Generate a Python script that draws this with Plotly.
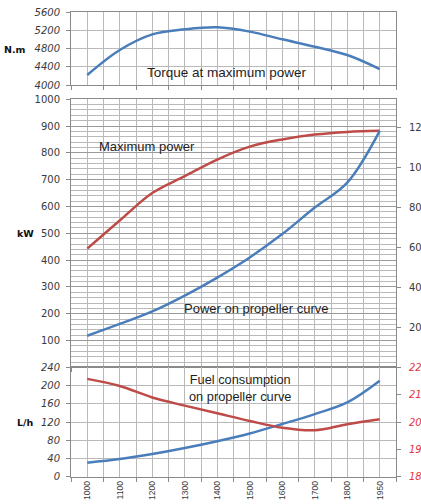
import plotly.graph_objects as go

# Engine speed categories (rpm)
rpm = ["1000", "1100", "1200", "1300", "1400", "1500", "1600", "1700", "1800", "1950"]

# Torque at maximum power (N.m)
torque_nm = [4220, 4770, 5115, 5225, 5270, 5175, 5005, 4843, 4660, 4352]

# Maximum power and power on propeller curve (kW)
max_power_kw = [443, 548, 650, 713, 775, 823, 850, 868, 878, 882]
prop_power_kw = [118, 162, 209, 268, 335, 410, 497, 596, 689, 882]

# Fuel consumption on propeller curve (L/h) and specific consumption (g/kWh)
fuel_lh = [30.7, 38.8, 49.8, 63, 78, 95, 115.6, 137.5, 163, 210.6]
sfc_gkwh = [215.8, 213.2, 209.0, 206.0, 203.2, 200.4, 197.9, 197.0, 199.2, 201.0]

# Axis tick values
torque_ticks = [4000, 4400, 4800, 5200, 5600]
kw_ticks = [100, 200, 300, 400, 500, 600, 700, 800, 900, 1000]
hp_ticks = [200, 400, 600, 800, 1000, 1200]
lh_ticks = [0, 40, 80, 120, 160, 200, 240]
sfc_ticks = [180, 190, 200, 210, 220]

KW_TO_HP = 1.341

BLUE = "#4a7ebb"
RED = "#be4b48"
GRID = "#b9b9b9"
GRID_MAJOR = "#9a9a9a"
AXIS = "#8a8a8a"
TXT = "#3a3a3a"
FONT = "DejaVu Sans"

xi = list(range(len(rpm)))

fig = go.Figure()
fig.add_trace(go.Scatter(x=xi, y=torque_nm, xaxis="x", yaxis="y",
                         mode="lines", line=dict(color=BLUE, width=2.5, shape="spline")))
fig.add_trace(go.Scatter(x=xi, y=max_power_kw, xaxis="x2", yaxis="y2",
                         mode="lines", line=dict(color=RED, width=2.5, shape="spline")))
fig.add_trace(go.Scatter(x=xi, y=prop_power_kw, xaxis="x2", yaxis="y2",
                         mode="lines", line=dict(color=BLUE, width=2.5, shape="spline")))
fig.add_trace(go.Scatter(x=xi, y=sfc_gkwh, xaxis="x3", yaxis="y5",
                         mode="lines", line=dict(color=RED, width=2.5, shape="spline")))
fig.add_trace(go.Scatter(x=xi, y=fuel_lh, xaxis="x3", yaxis="y4",
                         mode="lines", line=dict(color=BLUE, width=2.5, shape="spline")))

# Plot area: x 71..396 px, y 12..477 px
L, R, T, B = 71, 25, 12, 27
W, H = 421, 504
ph = H - T - B
pw = W - L - R


def ydom(top_px, bottom_px):
    return [(H - B - bottom_px) / ph, (H - B - top_px) / ph]


def xaxis_common(anchor, show_labels):
    return dict(
        anchor=anchor, domain=[0, 1], range=[-0.5, len(rpm) - 0.5],
        tickvals=xi, ticktext=rpm, showticklabels=show_labels,
        tickangle=-90, tickfont=dict(family="Liberation Sans", size=8.5, color=TXT),
        ticks="", showgrid=True, gridcolor=GRID, gridwidth=1, zeroline=False,
        showline=True, linecolor=AXIS, linewidth=1, mirror=True,
        minor=dict(tick0=-0.5, dtick=1, ticks="outside", ticklen=4, tickcolor=AXIS,
                   showgrid=True, gridcolor=GRID, gridwidth=1),
        fixedrange=True,
    )


left_font = dict(family=FONT, size=10, color=TXT)

fig.update_layout(
    width=W, height=H, margin=dict(l=L, r=R, t=T, b=B, autoexpand=False),
    paper_bgcolor="white", plot_bgcolor="white", showlegend=False,
    xaxis=xaxis_common("y", False),
    xaxis2=xaxis_common("y2", False),
    xaxis3=xaxis_common("y4", True),
    yaxis=dict(
        domain=ydom(12.3, 85), anchor="x", range=[4000, 5600], tickvals=torque_ticks,
        tickfont=dict(family=FONT, size=10, color=TXT, style="italic"),
        ticks="outside", ticklen=4, tickcolor=AXIS, ticklabelstandoff=4,
        showgrid=True, gridcolor=GRID, zeroline=False,
        showline=True, linecolor=AXIS, mirror=True,
    ),
    yaxis2=dict(
        domain=ydom(99.2, 367.4), anchor="x2", range=[0, 1000], tickvals=kw_ticks,
        tickfont=left_font, ticks="outside", ticklen=4, tickcolor=AXIS,
        ticklabelstandoff=4,
        showgrid=True, gridcolor=GRID_MAJOR, zeroline=False,
        showline=True, linecolor=AXIS, mirror=True,
        minor=dict(dtick=20, tick0=0, showgrid=True, gridcolor=GRID, ticks=""),
    ),
    yaxis3=dict(
        overlaying="y2", side="right", anchor="x2", range=[0, 1000 * KW_TO_HP],
        tickvals=hp_ticks, tickfont=left_font, ticks="outside", ticklen=4,
        tickcolor=AXIS, ticklabelstandoff=6, showgrid=False, zeroline=False,
        showline=False,
    ),
    yaxis4=dict(
        domain=ydom(367.4, 476.7), anchor="x3", range=[0, 240], tickvals=lh_ticks,
        tickfont=dict(family=FONT, size=10, color=TXT, style="italic"),
        ticks="outside", ticklen=4, tickcolor=AXIS, ticklabelstandoff=4,
        showgrid=True, gridcolor=GRID, zeroline=False,
        showline=True, linecolor=AXIS, mirror=True,
    ),
    yaxis5=dict(
        overlaying="y4", side="right", anchor="x3", range=[180, 220],
        tickvals=sfc_ticks,
        tickfont=dict(family=FONT, size=10, color="#e8323a", style="italic"),
        ticks="outside", ticklen=4, tickcolor=AXIS, ticklabelstandoff=6,
        showgrid=False, zeroline=False, showline=False,
    ),
)

# hp scale for the right-hand power axis (invisible reference trace)
fig.add_trace(go.Scatter(x=xi, y=[v * KW_TO_HP for v in max_power_kw], xaxis="x2",
                         yaxis="y3", mode="lines", line=dict(width=0),
                         opacity=0, hoverinfo="skip"))

label_font = dict(family="Liberation Sans", size=13, color="#1e1e1e")
unit_font = dict(family=FONT, size=9.5, color="#111111", weight="bold")

fig.add_annotation(x=4.29, y=4271, xref="x", yref="y", text="Torque at maximum power",
                   showarrow=False, font=dict(label_font, size=13.5))
fig.add_annotation(x=1.85, y=822, xref="x2", yref="y2", text="Maximum power",
                   showarrow=False, font=label_font)
fig.add_annotation(x=5.2, y=221, xref="x2", yref="y2", text="Power on propeller curve",
                   showarrow=False, font=label_font)
fig.add_annotation(x=4.71, y=194, xref="x3", yref="y4",
                   text="Fuel consumption<br>on propeller curve",
                   showarrow=False, font=dict(label_font, size=12.8))

# Unit labels, right-aligned a little left of the tick labels
fig.add_annotation(x=0, xshift=-(L - 28), y=4792, xref="paper", yref="y", xanchor="right",
                   text="N.m", showarrow=False, font=unit_font)
fig.add_annotation(x=0, xshift=-(L - 36), y=500, xref="paper", yref="y2", xanchor="right",
                   text="kW", showarrow=False, font=unit_font)
fig.add_annotation(x=0, xshift=-(L - 36), y=120, xref="paper", yref="y4", xanchor="right",
                   text="L/h", showarrow=False, font=unit_font)

fig.write_html("out.html")
